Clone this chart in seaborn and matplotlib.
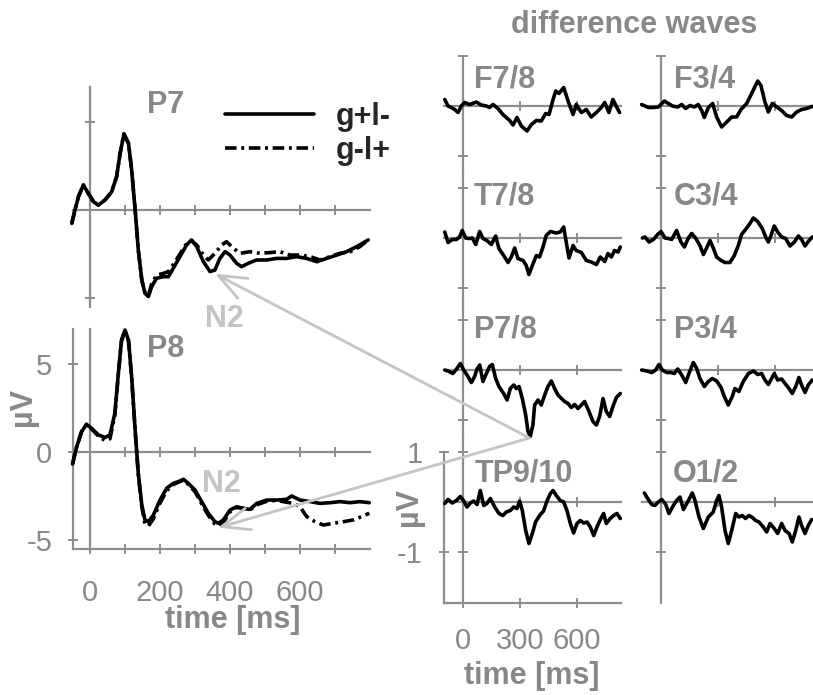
import matplotlib
matplotlib.use("Agg")
import matplotlib.pyplot as plt
import seaborn as sns
import pandas as pd
from matplotlib.lines import Line2D

sns.set_style("white")
plt.rcParams["font.family"] = ["Liberation Sans", "DejaVu Sans"]

# ---------------- data ----------------
# ERP at P7 (µV), two conditions
p7_t_a = [-52, -43, -33, -19, -5, 10, 24, 43, 62, 76, 86, 97, 110, 119, 129, 138, 148, 157, 167, 176,
          190, 210, 224, 238, 257, 276, 290, 305, 324, 343, 357, 371, 386, 400, 419, 433, 452, 476, 505,
          533, 562, 590, 619, 648, 676, 705, 733, 762, 795]
p7_gplm = [-0.76, 0, 0.76, 1.42, 0.95, 0.47, 0.28, 0.57, 1.04, 1.89, 3.22, 4.32, 3.79, 2.27, 0, -2.27,
           -3.98, -4.73, -4.92, -4.36, -3.88, -3.79, -3.79, -3.31, -2.65, -1.99, -1.7, -2.08, -2.94, -3.5,
           -3.41, -2.75, -2.37, -2.56, -3.03, -3.22, -3.03, -2.84, -2.84, -2.75, -2.75, -2.65, -2.75, -2.94,
           -2.75, -2.56, -2.37, -2.08, -1.7]
p7_t_b = [-52, -43, -33, -19, -5, 10, 24, 43, 62, 76, 86, 97, 110, 119, 129, 138, 148, 157, 167, 176,
          190, 210, 224, 238, 257, 276, 290, 305, 324, 338, 357, 376, 390, 410, 429, 457, 486, 514, 543,
          571, 600, 629, 657, 686, 714, 743, 771, 795]
p7_gmlp = [-0.76, 0, 0.76, 1.42, 0.95, 0.47, 0.28, 0.57, 1.04, 1.89, 3.22, 4.32, 3.79, 2.27, 0, -2.27,
           -3.98, -4.7, -4.85, -4.2, -3.7, -3.6, -3.5, -3.1, -2.5, -1.9, -1.75, -1.99, -2.56, -2.84, -2.46,
           -1.99, -1.8, -2.18, -2.46, -2.37, -2.46, -2.42, -2.37, -2.56, -2.56, -2.65, -2.84, -2.65, -2.46,
           -2.37, -2.08, -1.7]

# ERP at P8 (µV)
p8_t_a = [-50, -38, -24, -10, 5, 24, 43, 57, 71, 81, 90, 100, 110, 119, 129, 138, 148, 157, 167, 181,
          200, 219, 238, 252, 267, 281, 300, 319, 338, 357, 367, 381, 400, 419, 438, 457, 476, 505, 533,
          562, 576, 600, 629, 657, 686, 714, 743, 771, 798]
p8_gplm = [-0.68, 0.3, 1.16, 1.57, 1.34, 0.97, 0.83, 0.97, 2.2, 4.47, 6.36, 6.93, 6.36, 4.28, 1.25, -1.21,
           -3.01, -3.86, -3.96, -3.58, -2.73, -2.06, -1.78, -1.69, -1.55, -1.78, -2.16, -2.82, -3.48, -3.96,
           -4.05, -3.86, -3.3, -3.11, -3.2, -3.26, -2.92, -2.73, -2.73, -2.69, -2.5, -2.73, -2.82, -2.92,
           -2.88, -2.82, -2.88, -2.82, -2.88]
p8_t_b = [-50, -38, -24, -10, 5, 24, 43, 57, 71, 81, 90, 100, 110, 119, 129, 138, 148, 157, 167, 181,
          200, 219, 238, 252, 267, 281, 300, 319, 338, 357, 367, 381, 400, 419, 438, 457, 476, 505, 533,
          552, 581, 600, 619, 643, 667, 695, 724, 752, 776, 798]
p8_gmlp = [-0.7, 0.3, 1.16, 1.57, 1.3, 0.9, 0.65, 0.75, 2.1, 4.4, 6.3, 6.9, 6.3, 4.2, 1.2, -1.3, -3.1,
           -4.1, -4.2, -3.8, -2.9, -2.2, -1.85, -1.72, -1.6, -1.85, -2.25, -2.95, -3.6, -4.1, -4.2, -4.0,
           -3.4, -3.15, -3.2, -3.3, -3.0, -2.8, -2.75, -2.82, -2.92, -3.11, -3.67, -3.96, -4.15, -4.05,
           -3.96, -3.86, -3.67, -3.48]

# difference waves (µV)
f78_t = [-96, -79, -61, -44, -26, -9, 9, 35, 70, 96, 123, 140, 158, 184, 210, 246, 263, 284, 307, 337,
         360, 386, 412, 435, 453, 474, 488, 505, 530, 553, 579, 596, 623, 649, 675, 702, 728, 746, 768,
         789, 810, 824]
f78_v = [0.13, 0, -0.03, -0.07, -0.13, 0, 0.07, 0.03, 0.08, 0.02, 0, -0.03, 0.03, -0.05, -0.17, -0.29,
         -0.38, -0.23, -0.4, -0.5, -0.37, -0.29, -0.3, -0.15, -0.17, 0.13, 0.3, 0.25, 0.37, 0.1, -0.17,
         0.03, -0.13, -0.07, -0.22, -0.13, -0.03, 0.07, -0.13, 0.13, -0.03, -0.13]
f34_t = [-102, -84, -67, -40, -14, 18, 39, 60, 88, 109, 130, 153, 175, 196, 214, 228, 249, 272, 293, 319,
         346, 372, 398, 421, 451, 477, 509, 526, 547, 565, 586, 609, 635, 661, 688, 714, 740, 767, 793, 819]
f34_v = [0.03, 0, -0.03, -0.03, -0.02, 0.1, 0.05, 0, -0.02, 0.03, -0.05, 0.01, -0.02, 0.03, -0.09, -0.23,
         -0.03, 0.05, -0.22, -0.42, -0.32, -0.22, -0.22, -0.07, 0.05, 0.25, 0.5, 0.41, 0.08, -0.12, 0.05,
         -0.02, -0.09, -0.19, -0.22, -0.12, -0.07, -0.05, -0.01, -0.01]
t78_t = [-96, -79, -56, -35, -18, -4, 14, 32, 49, 67, 88, 105, 126, 149, 172, 189, 214, 237, 254, 272,
         289, 316, 333, 347, 365, 386, 403, 421, 438, 460, 491, 512, 530, 540, 558, 579, 596, 623, 649,
         675, 702, 723, 746, 763, 781, 798, 816, 828]
t78_v = [0.12, -0.09, -0.03, -0.03, 0.02, 0.15, 0, -0.01, 0, -0.13, 0.13, -0.01, -0.05, -0.13, 0.04,
         -0.21, -0.35, -0.49, -0.38, -0.2, -0.41, -0.45, -0.55, -0.73, -0.55, -0.35, -0.38, -0.18, 0.05,
         0.13, 0.1, 0.12, 0.22, -0.01, -0.4, -0.15, -0.25, -0.29, -0.45, -0.48, -0.53, -0.38, -0.47,
         -0.31, -0.38, -0.25, -0.28, -0.18]
c34_t = [-98, -84, -63, -40, -18, 0, 21, 39, 56, 82, 105, 123, 144, 161, 182, 205, 223, 240, 258, 275,
         293, 316, 337, 363, 386, 407, 424, 451, 468, 486, 509, 533, 551, 565, 579, 596, 614, 635, 656,
         679, 702, 723, 740, 758, 775, 796]
c34_v = [0, 0.02, -0.08, -0.03, 0.07, 0.13, 0, -0.01, -0.03, 0.15, -0.08, -0.18, 0, 0.09, 0, -0.15,
         -0.33, -0.2, -0.05, -0.2, -0.38, -0.45, -0.49, -0.49, -0.35, -0.15, 0.07, 0.2, 0.29, 0.4, 0.33,
         0.19, 0.02, -0.08, 0.05, 0.24, 0.12, 0.02, -0.01, -0.16, -0.08, 0.04, -0.03, -0.16, -0.07, 0.02]
p78_t = [-96, -79, -53, -32, -14, 4, 26, 44, 61, 74, 88, 105, 123, 140, 154, 172, 189, 214, 232, 249,
         267, 281, 295, 312, 330, 342, 354, 368, 377, 395, 412, 430, 447, 465, 482, 500, 518, 535, 553,
         570, 588, 605, 623, 640, 663, 684, 702, 719, 737, 754, 772, 789, 807, 828]
p78_v = [0, -0.02, -0.07, 0.03, 0.13, 0, -0.13, -0.25, -0.13, 0.02, 0.1, -0.23, -0.07, 0.07, 0.11, -0.17,
         -0.33, -0.47, -0.6, -0.37, -0.3, -0.37, -0.33, -0.57, -0.9, -1.23, -1.33, -1.1, -0.7, -0.6, -0.7,
         -0.5, -0.33, -0.22, -0.37, -0.5, -0.57, -0.63, -0.67, -0.75, -0.69, -0.77, -0.7, -0.63, -0.83,
         -1.03, -1.1, -0.93, -0.57, -0.83, -0.93, -0.73, -0.55, -0.47]
p34_t = [-102, -75, -49, -28, -11, 7, 30, 53, 70, 88, 109, 130, 147, 170, 188, 205, 228, 249, 270, 293,
         316, 333, 354, 375, 389, 410, 433, 460, 486, 509, 530, 547, 565, 582, 596, 614, 635, 653, 674,
         691, 709, 726, 740, 758, 775, 796]
p34_v = [0, -0.02, -0.05, 0, 0.11, 0, -0.05, -0.05, -0.07, 0.02, -0.1, -0.25, -0.07, 0.15, 0.03, -0.17,
         -0.33, -0.23, -0.17, -0.22, -0.35, -0.53, -0.7, -0.53, -0.37, -0.43, -0.23, -0.07, -0.02, -0.09,
         -0.07, -0.2, -0.29, -0.17, -0.07, -0.2, -0.18, -0.27, -0.37, -0.47, -0.33, -0.15, -0.3, -0.45,
         -0.3, -0.2]
tp910_t = [-96, -79, -56, -35, -14, 4, 21, 39, 56, 74, 91, 109, 126, 144, 167, 189, 210, 228, 249, 267,
           284, 298, 312, 330, 347, 365, 382, 403, 424, 442, 460, 474, 491, 512, 530, 547, 565, 582, 600,
           617, 635, 653, 670, 688, 705, 723, 740, 754, 775, 793, 810, 828]
tp910_v = [-0.03, 0.05, -0.02, 0.03, 0.11, 0.02, -0.1, -0.02, 0.02, -0.05, 0.23, -0.07, -0.03, 0.07,
           -0.1, -0.23, -0.27, -0.2, -0.17, -0.1, -0.13, 0.02, -0.17, -0.57, -0.83, -0.63, -0.4, -0.27,
           -0.18, 0.02, 0.17, 0.23, 0.13, 0.03, 0, -0.17, -0.43, -0.62, -0.43, -0.37, -0.42, -0.4, -0.5,
           -0.67, -0.5, -0.35, -0.23, -0.43, -0.33, -0.27, -0.23, -0.33]
o12_t = [-88, -70, -49, -32, -14, 4, 25, 42, 65, 82, 100, 118, 140, 165, 179, 200, 223, 249, 275, 293,
         305, 319, 337, 354, 372, 393, 410, 428, 445, 463, 481, 498, 516, 538, 556, 574, 596, 614, 635,
         653, 674, 691, 709, 726, 740, 758, 775, 793]
o12_v = [0.18, 0.07, -0.05, -0.07, 0, 0.05, -0.05, -0.23, -0.07, 0.03, 0.1, -0.15, 0, 0.18, 0.03, -0.3,
         -0.53, -0.3, -0.2, 0.03, 0.13, -0.1, -0.57, -0.83, -0.57, -0.23, -0.3, -0.27, -0.33, -0.27,
         -0.31, -0.37, -0.4, -0.5, -0.6, -0.43, -0.53, -0.63, -0.43, -0.57, -0.63, -0.8, -0.57, -0.3,
         -0.47, -0.63, -0.47, -0.35]

legend_labels = ["g+l-", "g-l+"]
erp_titles = ["P7", "P8"]
diff_titles = [["F7/8", "F3/4"], ["T7/8", "C3/4"], ["P7/8", "P3/4"], ["TP9/10", "O1/2"]]
diff_series = [[(f78_t, f78_v), (f34_t, f34_v)],
               [(t78_t, t78_v), (c34_t, c34_v)],
               [(p78_t, p78_v), (p34_t, p34_v)],
               [(tp910_t, tp910_v), (o12_t, o12_v)]]
erp_xticks = [0, 100, 200, 300, 400, 500, 600, 700]
erp_xticklabels = ["0", "", "200", "", "400", "", "600", ""]
erp_yticks = [-5, 0, 5]
erp_yticklabels = ["-5", "0", "5"]
diff_xticks = [0, 300, 600]
diff_xticklabels = ["0", "300", "600"]
diff_yticks = [-1, 1]
diff_yticklabels = ["-1", "1"]

# ---------------- layout helpers ----------------
W, H = 813, 695
fig = plt.figure(figsize=(W / 100, H / 100), dpi=100)


def rect(x0, y0, x1, y1):
    return [x0 / W, 1 - y1 / H, (x1 - x0) / W, (y1 - y0) / H]


def fx(x):
    return x / W


def fy(y):
    return 1 - y / H


AXC = "#8e8e8e"
LBL = "#888888"
LIGHT = "#c4c4c4"
LW_AX = 1.6
LW_CURVE = 2.6
TICK_FS = 21
BOLD_FS = 22
DASHDOT = (0, (3.2, 1.3, 0.8, 1.3))
TICK_KW = dict(direction="inout", length=7, width=1.4, color=AXC)


def plot_curve(ax, t, v, ls="-"):
    df = pd.DataFrame({"t": t, "v": v})
    sns.lineplot(data=df, x="t", y="v", ax=ax, color="black", linewidth=LW_CURVE,
                 linestyle=ls, errorbar=None, zorder=3, clip_on=False)
    ax.set_xlabel("")
    ax.set_ylabel("")


def style_cross(ax, xt, yt):
    ax.set_facecolor("none")
    ax.spines["top"].set_visible(False)
    ax.spines["right"].set_visible(False)
    ax.spines["left"].set_position(("data", 0))
    ax.spines["bottom"].set_position(("data", 0))
    for s in ("left", "bottom"):
        ax.spines[s].set_color(AXC)
        ax.spines[s].set_linewidth(LW_AX)
    ax.set_xticks(xt)
    ax.set_yticks(yt)
    ax.tick_params(bottom=True, left=True, top=False, right=False,
                   labelbottom=False, labelleft=False, **TICK_KW)


# ---------------- left ERP panels ----------------
L_X0 = 90.0      # x pixel of t = 0
L_PXMS = 0.35
L_PXUV = 17.6
ERP_XLIM = (-50, 800)
ERP_YLIM = (-5.5, 7.0)
erp_zero = [210, 452]
erp_axes = []
for i, z in enumerate(erp_zero):
    ax = fig.add_axes(rect(L_X0 + ERP_XLIM[0] * L_PXMS, z - ERP_YLIM[1] * L_PXUV,
                           L_X0 + ERP_XLIM[1] * L_PXMS, z - ERP_YLIM[0] * L_PXUV))
    erp_axes.append(ax)

ax7, ax8 = erp_axes
plot_curve(ax7, p7_t_b, p7_gmlp, DASHDOT)
plot_curve(ax7, p7_t_a, p7_gplm)
plot_curve(ax8, p8_t_b, p8_gmlp, DASHDOT)
plot_curve(ax8, p8_t_a, p8_gplm)
for ax in erp_axes:
    ax.set_xlim(*ERP_XLIM)
    ax.set_ylim(*ERP_YLIM)

style_cross(ax7, erp_xticks, [-5, 5])

# P8: outer frame + zero cross
ax8.set_facecolor("none")
for s in ("left", "bottom", "top", "right"):
    ax8.spines[s].set_visible(True)
    ax8.spines[s].set_color(AXC)
    ax8.spines[s].set_linewidth(LW_AX)
ax8.spines["top"].set_position(("data", 0))
ax8.spines["right"].set_position(("data", 0))
ax8.set_xticks(erp_xticks)
ax8.set_xticklabels(erp_xticklabels)
ax8.set_yticks(erp_yticks)
ax8.set_yticklabels(erp_yticklabels)
ax8.tick_params(bottom=True, left=True, top=True, right=False,
                labeltop=False, labelright=False, labelcolor=LBL, labelsize=TICK_FS, **TICK_KW)
ax8.tick_params(axis="x", pad=18)
ax8.tick_params(axis="y", pad=11)

# legend in P7
h1 = Line2D([], [], color="black", lw=LW_CURVE)
h2 = Line2D([], [], color="black", lw=LW_CURVE, linestyle=DASHDOT)
leg = ax7.legend([h1, h2], legend_labels, loc="upper left",
                 bbox_to_anchor=(fx(225), fy(102)), bbox_transform=fig.transFigure,
                 frameon=False, borderpad=0, borderaxespad=0, handlelength=2.9,
                 handletextpad=0.72, labelspacing=0.12,
                 prop={"weight": "bold", "size": BOLD_FS})

# ---------------- difference-wave panels ----------------
R_X0 = [463.0, 661.0]
R_PXMS = 0.19
R_PXUV = 50.0
DIFF_XLIM = (-100, 832)
row_zero = [106, 238, 370, 502]
diff_axes = [[None, None] for _ in range(4)]
for r in range(4):
    ylo = -2.02 if r == 3 else -1.32
    yhi = 1.32
    for c in range(2):
        x0 = R_X0[c] + DIFF_XLIM[0] * R_PXMS
        x1 = R_X0[c] + DIFF_XLIM[1] * R_PXMS
        ax = fig.add_axes(rect(x0, row_zero[r] - yhi * R_PXUV, x1, row_zero[r] - ylo * R_PXUV))
        t, v = diff_series[r][c]
        plot_curve(ax, t, v)
        ax.set_xlim(*DIFF_XLIM)
        ax.set_ylim(ylo, yhi)
        diff_axes[r][c] = ax
        if r == 3 and c == 0:
            ax.set_facecolor("none")
            for s in ("left", "bottom", "top", "right"):
                ax.spines[s].set_visible(True)
                ax.spines[s].set_color(AXC)
                ax.spines[s].set_linewidth(LW_AX)
            ax.spines["top"].set_position(("data", 0))
            ax.spines["right"].set_position(("data", 0))
            ax.spines["left"].set_bounds(ylo, 1)
            ax.set_xticks(diff_xticks)
            ax.set_xticklabels(diff_xticklabels)
            ax.set_yticks(diff_yticks)
            ax.set_yticklabels(diff_yticklabels)
            ax.tick_params(bottom=True, left=True, top=True, right=True,
                           labeltop=False, labelright=False,
                           labelcolor=LBL, labelsize=TICK_FS, **TICK_KW)
            ax.tick_params(axis="x", pad=14)
            ax.tick_params(axis="y", pad=12)
        else:
            style_cross(ax, diff_xticks, diff_yticks)
            if r == 0:
                ax.spines["left"].set_bounds(ylo, 1)

# ---------------- text ----------------
def btext(x, y, s, color=LBL, ha="left", va="baseline", **kw):
    fig.text(fx(x), fy(y), s, color=color, fontsize=BOLD_FS, fontweight="bold",
             ha=ha, va=va, **kw)


btext(634, 33, "difference waves", ha="center")
btext(147, 113, erp_titles[0])
btext(147, 357, erp_titles[1])
btext(205, 327, "N2", color=LIGHT)
btext(202, 492, "N2", color=LIGHT)
btext(233, 628, "time [ms]", ha="center")
btext(532, 684, "time [ms]", ha="center")
btext(23, 407, "µV", ha="center", va="center", rotation=90)
btext(409, 507, "µV", ha="center", va="center", rotation=90)

label_base = [87, 205, 337, 482]
label_x = [[474, 674], [474, 674], [474, 674], [475, 673]]
for r in range(4):
    for c in range(2):
        btext(label_x[r][c], label_base[r], diff_titles[r][c])

# ---------------- arrows (N2 links) ----------------
last_ax = diff_axes[3][1]
for tip_ax, tip in ((ax7, (357, -3.62)), (ax8, (366, -4.3))):
    last_ax.annotate("", xy=tip, xycoords=tip_ax.transData,
                     xytext=(350, -1.36), textcoords=diff_axes[2][0].transData,
                     arrowprops=dict(arrowstyle="->,head_length=2.0,head_width=0.8",
                                     color=LIGHT, lw=2.0, shrinkA=0, shrinkB=0,
                                     mutation_scale=10),
                     annotation_clip=False, zorder=5)

fig.savefig("out.png", dpi=100)
